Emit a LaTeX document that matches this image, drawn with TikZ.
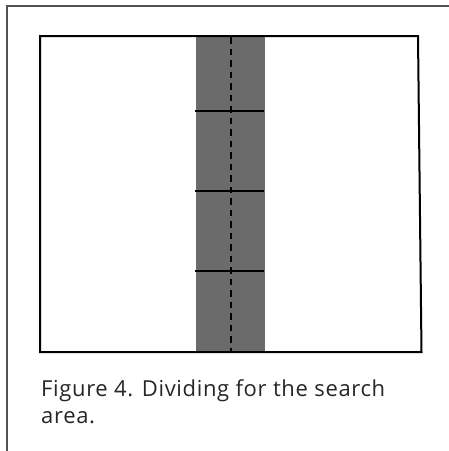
\documentclass[tikz,border=0pt]{standalone}
\usepackage{fontspec}
\setmainfont[LetterSpace=3]{Open Sans}
\begin{document}
\begin{tikzpicture}[x=1pt,y=-1pt,
  frameline/.style={draw=black!68,line width=2pt},
  boxline/.style={draw=black,line width=2pt},
  strip/.style={fill=black!58,draw=none},
  divider/.style={draw=black,line width=2pt},
  centerdash/.style={draw=black,line width=2.2pt,dash pattern=on 6.5pt off 5pt},
  caption/.style={anchor=base west,inner sep=0pt,text=black!85,font=\fontsize{22}{27}\selectfont}]
\useasboundingbox (0,0) rectangle (449,451);
\coordinate (fb) at (6.5,451);
\coordinate (fc) at (6.5,5.5);
\coordinate (fr) at (449,5.5);
\draw[frameline] (fb) -- (fc) -- (fr);
\fill[strip] (196,36) rectangle (265,352);
\draw[boxline] (40,36) -- (418,36) -- (421.5,352) -- (40,352) -- cycle;
\coordinate (ct) at (231,37);
\coordinate (cb) at (231,351);
\draw[centerdash] (ct) -- (cb);
\foreach \y in {111,191,271}{
  \draw[divider] (195,\y) -- (264,\y);
}
\node[caption] (cap1) at (41,396) {Figure 4. Dividing for the search};
\node[caption] (cap2) at (41,423) {area.};
\end{tikzpicture}
\end{document}
